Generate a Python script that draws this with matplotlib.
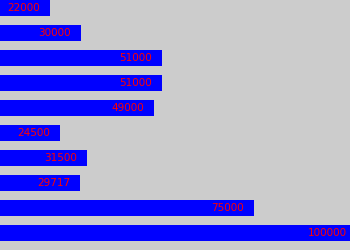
import matplotlib

matplotlib.use('Agg')
import matplotlib.pyplot as plt

# salary values, one bar per row (top to bottom)
values = [22000, 30000, 51000, 51000, 49000, 24500, 31500, 29717, 75000, 100000]
labels = [str(v) for v in values]

x_min = 8850
x_max = 100000

fig = plt.figure(figsize=(3.5, 2.5), dpi=100)
fig.patch.set_facecolor('#cccccc')
ax = fig.add_axes([0, 0, 1, 1])
ax.set_facecolor('#cccccc')

rows = list(range(len(values)))
ax.barh(rows, values, height=0.64, left=0, color='#0000ff', antialiased=False)

for i, (v, lab) in enumerate(zip(values, labels)):
    # keep the label inside the figure for the longest bar
    off = -3 if v >= x_max else -10
    ax.annotate(lab, xy=(v, i), xytext=(off, 0), textcoords='offset pixels',
                ha='right', va='center', color='#ff0000',
                fontsize=7.5, family='DejaVu Sans')

ax.set_xlim(x_min, x_max)
ax.set_ylim(len(values) - 0.32, -0.32)
ax.axis('off')

fig.savefig('out.png', dpi=100, facecolor=fig.get_facecolor())
